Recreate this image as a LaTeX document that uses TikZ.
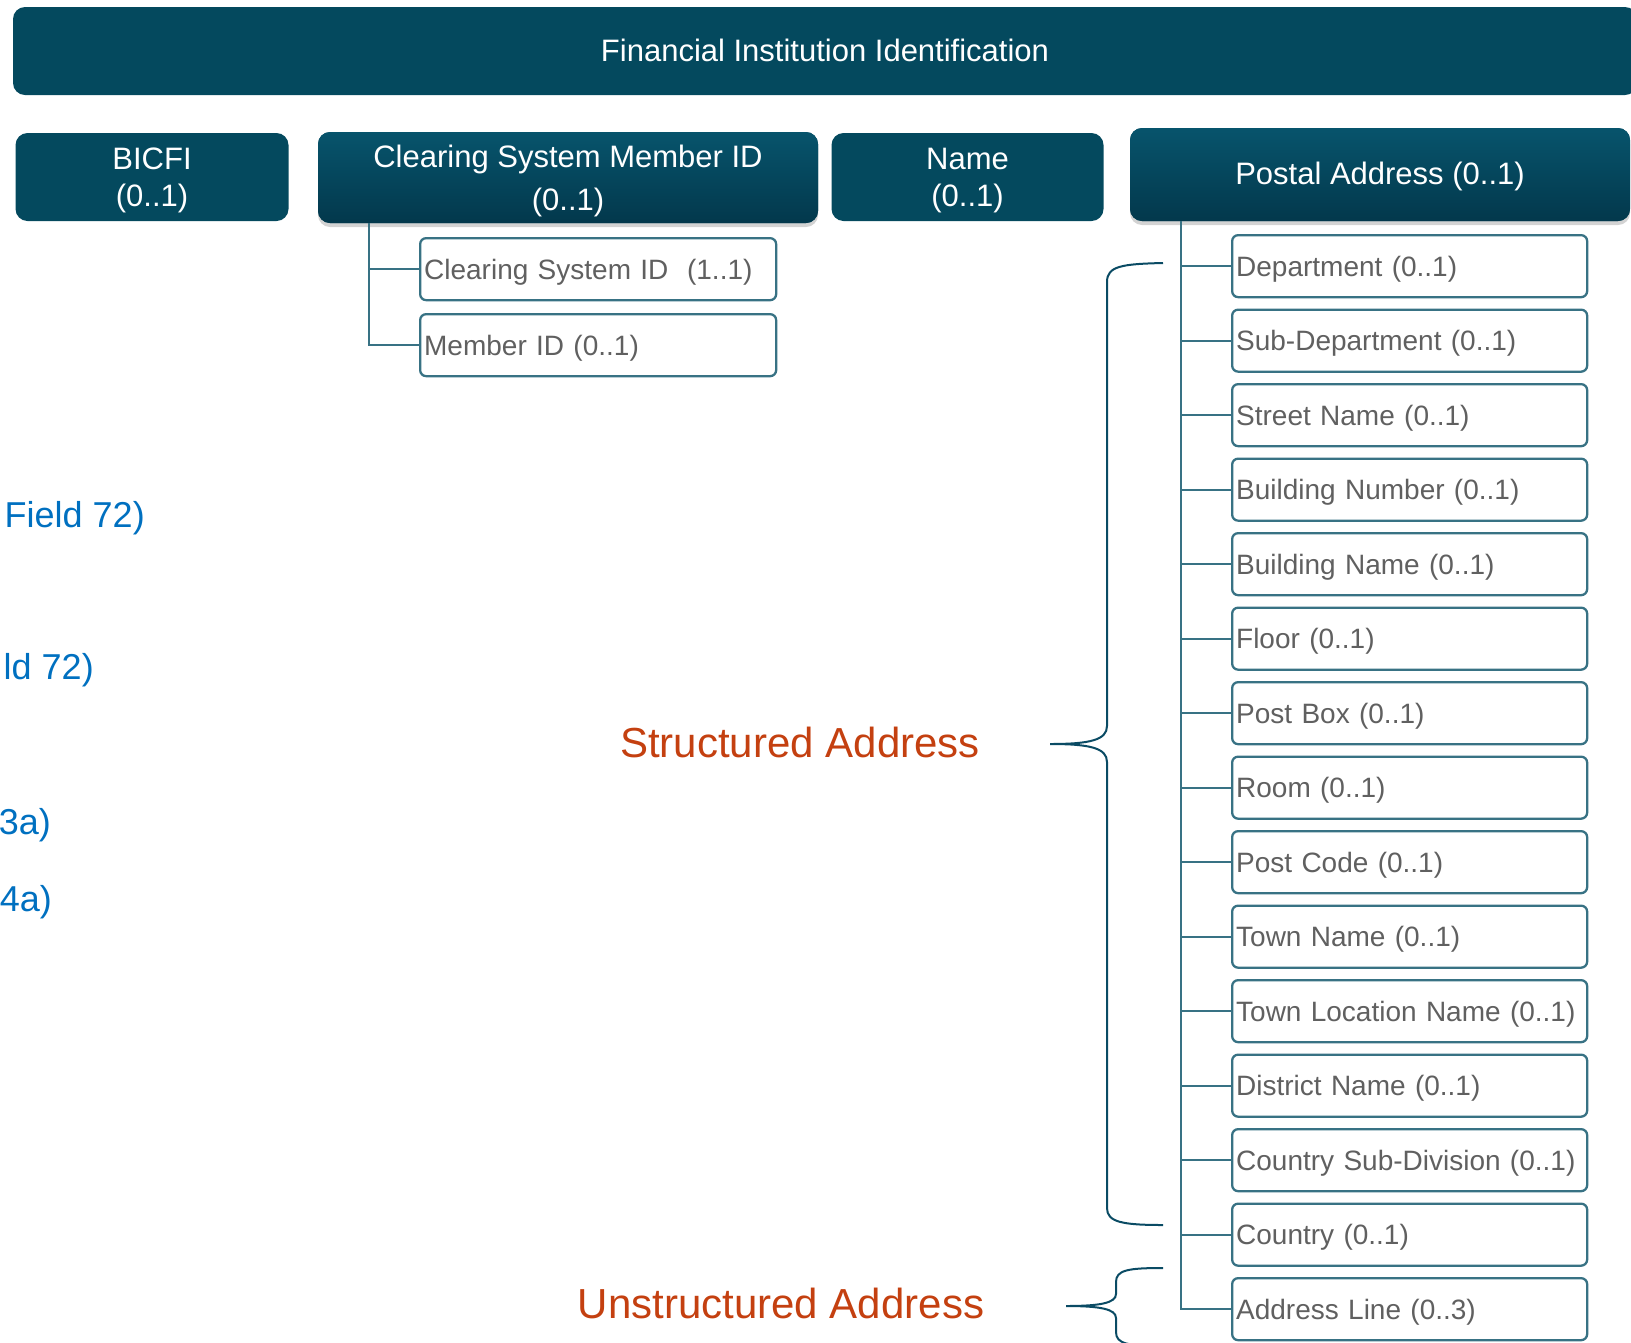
\documentclass[tikz,border=0pt]{standalone}
\usepackage{fontspec}
\setmainfont{Liberation Sans}
\usetikzlibrary{shadows}
\definecolor{hdr}{RGB}{4,73,94}
\definecolor{hdrtop}{RGB}{7,84,108}
\definecolor{hdrbot}{RGB}{3,56,76}
\definecolor{subc}{RGB}{56,114,132}
\definecolor{bracec}{RGB}{10,75,100}
\definecolor{txtgray}{RGB}{96,96,96}
\definecolor{orng}{RGB}{196,64,16}
\definecolor{blu}{RGB}{0,112,192}
\begin{document}
\begin{tikzpicture}[x=1pt,y=-1pt,
  hdrbox/.style={fill=hdr, rounded corners=12pt, inner sep=0pt},
  hdrtext/.style={text=white, align=center, font=\fontsize{31}{37}\selectfont, inner sep=0pt},
  hdrshade/.style={top color=hdrtop, bottom color=hdrbot,
    drop shadow={shadow xshift=0pt, shadow yshift=-4pt, opacity=0.35}},
  subbox/.style={draw=subc, line width=2.3pt, rounded corners=6pt, fill=white,
    text=txtgray, font=\fontsize{28}{34}\selectfont, text width=347pt,
    align=left, inner xsep=4pt, inner ysep=0pt, minimum height=62pt,
    text height=24pt, text depth=4pt, anchor=north west},
  conn/.style={draw=subc, line width=2.3pt},
  bracestyle/.style={draw=bracec, line width=2pt},
  orlabel/.style={text=orng, font=\fontsize{42}{50}\selectfont, inner sep=0pt, anchor=base},
  bllabel/.style={text=blu, font=\fontsize{36}{42}\selectfont, inner sep=0pt, anchor=base east},
]
\useasboundingbox (0,0) rectangle (1631,1342);
\clip (0,0) rectangle (1631,1342);

% top banner
\node[hdrbox, minimum width=1624pt, minimum height=88pt] (fii) at (825,51) {};
\node[hdrtext] (fiit) at ([yshift=1pt]fii.center) {Financial Institution Identification};

% second row
\node[hdrbox, minimum width=273pt, minimum height=88pt] (bicfi) at (152,177) {};
\node[hdrtext] (bicfit) at ([yshift=-3pt]bicfi.center) {BICFI\\(0..1)};
\node[hdrbox, hdrshade, minimum width=500pt, minimum height=91pt] (csm) at (568,177.5) {};
\node[hdrtext, font=\fontsize{31}{43}\selectfont] (csmt) at ([yshift=-3pt]csm.center)
  {Clearing System Member ID\\(0..1)};
\node[hdrbox, minimum width=272pt, minimum height=88pt] (name) at (967.5,177) {};
\node[hdrtext] (namet) at ([yshift=-3.5pt]name.center) {Name\\(0..1)};
\node[hdrbox, hdrshade, minimum width=500pt, minimum height=93pt] (pa) at (1380,174.5) {};
\node[hdrtext] (pat) at ([yshift=-2pt]pa.center) {Postal Address (0..1)};

% clearing system member id children
\node[subbox, text width=348pt] (csid) at (419,237) {Clearing System ID~ (1..1)};
\node[subbox, text width=348pt] (mid) at (419,313) {Member ID (0..1)};
\coordinate (cv) at (369,223);
\draw[conn] (cv) |- (csid.west);
\draw[conn] (cv) |- (mid.west);

% postal address children
\foreach \i/\nm/\t in {0/dep/Department (0..1),
  1/sdep/Sub-Department (0..1),
  2/str/Street Name (0..1),
  3/bnum/Building Number (0..1),
  4/bnam/Building Name (0..1),
  5/flr/Floor (0..1),
  6/pbox/Post Box (0..1),
  7/room/Room (0..1),
  8/pcode/Post Code (0..1),
  9/town/Town Name (0..1),
  10/tloc/Town Location Name (0..1),
  11/dist/District Name (0..1),
  12/csub/Country Sub-Division (0..1),
  13/ctry/Country (0..1),
  14/adl/Address Line (0..3)}{
  \node[subbox] (\nm) at (1231,{234+74.5*\i}) {\t};
}
\coordinate (pv) at (1181,221);
\foreach \nm in {dep,sdep,str,bnum,bnam,flr,pbox,room,pcode,town,tloc,dist,csub,ctry,adl}{
  \draw[conn] (pv) |- (\nm.west);
}

% structured address brace
\coordinate (sbt) at (1163,263);
\coordinate (sbb) at (1163,1225);
\coordinate (sbtip) at (1050,744);
\draw[bracestyle] (sbt) .. controls (1122,264) and (1107,266) .. (1107,282)
  -- (1107,726) .. controls (1107,740) and (1090,744) .. (sbtip)
  .. controls (1090,744) and (1107,748) .. (1107,762)
  -- (1107,1208) .. controls (1107,1222) and (1122,1225) .. (sbb);
\node[orlabel] (sa) at (800,757) {Structured Address};

% unstructured address brace
\coordinate (ubt) at (1163,1268);
\coordinate (ubb) at (1163,1346);
\coordinate (ubtip) at (1066,1306);
\draw[bracestyle] (ubt) .. controls (1128,1268) and (1116,1270) .. (1116,1282)
  -- (1116,1294) .. controls (1116,1303) and (1100,1306) .. (ubtip)
  .. controls (1100,1306) and (1116,1309) .. (1116,1318)
  -- (1116,1332) .. controls (1116,1344) and (1128,1346) .. (ubb);
\node[orlabel] (ua) at (781,1318) {Unstructured Address};

% blue texts on the left
\node[bllabel] (f1) at (145,527) {Field 72)};
\node[bllabel] (f2) at (94,679) {ld 72)};
\node[bllabel] (f3) at (51,834) {3a)};
\node[bllabel] (f4) at (52,911) {4a)};
\end{tikzpicture}
\end{document}
